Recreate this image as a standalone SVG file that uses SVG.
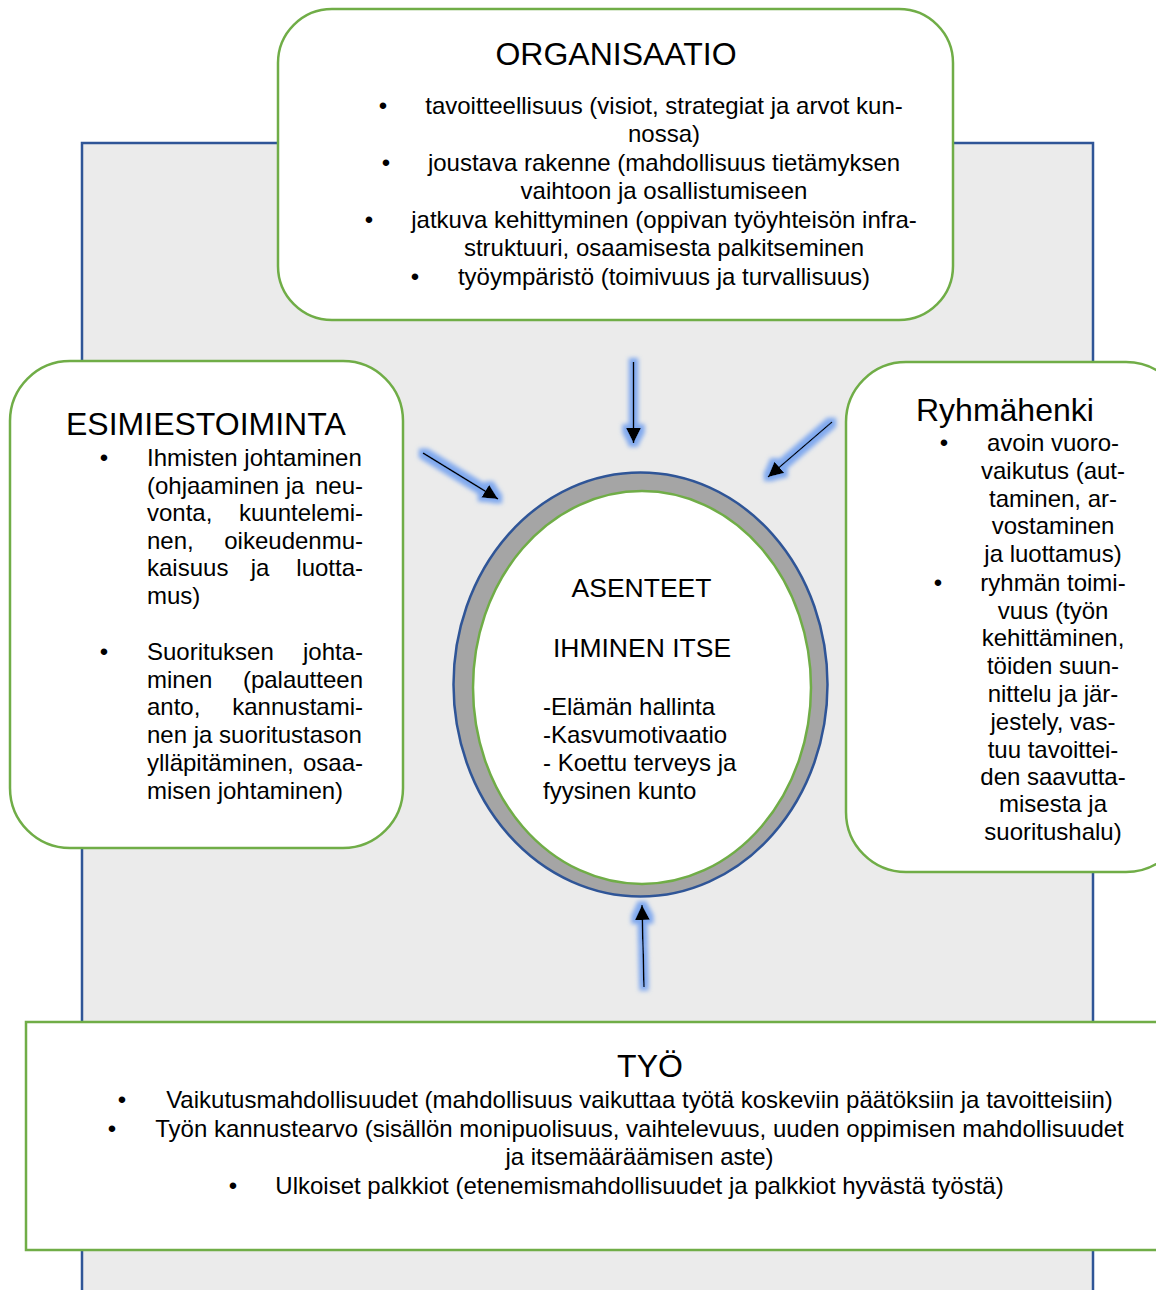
<svg xmlns="http://www.w3.org/2000/svg" width="1156" height="1290" viewBox="0 0 1156 1290">
<style>
  text { font-family: "Liberation Sans", Arial, sans-serif; fill: #000; }
  .h { font-size: 32px; }
  .b { font-size: 24px; }
  .m { font-size: 26.5px; }
  .c { text-anchor: middle; }
  .e { text-anchor: end; }
  .box { fill: #fff; stroke: #70AD47; stroke-width: 2.5; }
  .conn { stroke: #000; stroke-width: 1.6; fill: none; marker-end: url(#ah); }
</style>
<defs>
  <marker id="ah" markerUnits="userSpaceOnUse" markerWidth="16" markerHeight="16" viewBox="0 0 16 16" refX="15" refY="8" orient="auto">
    <path d="M0,0.5 L15,8 L0,15.5 z" fill="#000"/>
  </marker>
  <filter id="glow" x="-50%" y="-50%" width="200%" height="200%">
    <feMorphology in="SourceAlpha" operator="dilate" radius="3.5" result="d"/>
    <feFlood flood-color="#6F9EEF" flood-opacity="0.85"/>
    <feComposite in2="d" operator="in" result="c"/>
    <feGaussianBlur in="c" stdDeviation="2.2" result="g"/>
    <feMerge><feMergeNode in="g"/><feMergeNode in="SourceGraphic"/></feMerge>
  </filter>
</defs>

<rect width="1156" height="1290" fill="#fff"/>

<g id="background">
  <rect x="82" y="143" width="1011" height="1170" fill="#EBEBEB" stroke="#2F5597" stroke-width="2.5"/>
</g>

<g id="organisaatio">
  <rect class="box" x="278" y="9" width="675" height="311" rx="54" ry="54"/>
  <text class="h c" x="616" y="65">ORGANISAATIO</text>
  <text class="b c" x="383" y="114">•</text>
  <text class="b c" x="664" y="114">tavoitteellisuus (visiot, strategiat ja arvot kun-</text>
  <text class="b c" x="664" y="142">nossa)</text>
  <text class="b c" x="386" y="171">•</text>
  <text class="b c" x="664" y="171">joustava rakenne (mahdollisuus tietämyksen</text>
  <text class="b c" x="664" y="199">vaihtoon ja osallistumiseen</text>
  <text class="b c" x="369" y="228">•</text>
  <text class="b c" x="664" y="228">jatkuva kehittyminen (oppivan työyhteisön infra-</text>
  <text class="b c" x="664" y="256">struktuuri, osaamisesta palkitseminen</text>
  <text class="b c" x="415" y="285">•</text>
  <text class="b c" x="664" y="285">työympäristö (toimivuus ja turvallisuus)</text>
</g>

<g id="esimiestoiminta">
  <rect class="box" x="10" y="361" width="393" height="487" rx="60" ry="60"/>
  <text class="h" x="66" y="435">ESIMIESTOIMINTA</text>
  <text class="b c" x="104" y="466">•</text>
  <text class="b" x="147" y="466">Ihmisten johtaminen</text>
  <text class="b" x="147" y="494">(ohjaaminen</text><text class="b c" x="295" y="494">ja</text><text class="b e" x="363" y="494">neu-</text>
  <text class="b" x="147" y="521">vonta,</text><text class="b e" x="363" y="521">kuuntelemi-</text>
  <text class="b" x="147" y="549">nen,</text><text class="b e" x="363" y="549">oikeudenmu-</text>
  <text class="b" x="147" y="576">kaisuus</text><text class="b c" x="260" y="576">ja</text><text class="b e" x="363" y="576">luotta-</text>
  <text class="b" x="147" y="604">mus)</text>
  <text class="b c" x="104" y="660">•</text>
  <text class="b" x="147" y="660">Suorituksen</text><text class="b e" x="363" y="660">johta-</text>
  <text class="b" x="147" y="688">minen</text><text class="b e" x="363" y="688">(palautteen</text>
  <text class="b" x="147" y="715">anto,</text><text class="b e" x="363" y="715">kannustami-</text>
  <text class="b" x="147" y="743">nen ja suoritustason</text>
  <text class="b" x="147" y="771">ylläpitäminen,</text><text class="b e" x="363" y="771">osaa-</text>
  <text class="b" x="147" y="799">misen johtaminen)</text>
</g>

<g id="ryhmahenki">
  <rect class="box" x="846" y="362" width="340" height="510" rx="60" ry="60"/>
  <text class="h" x="916" y="421">Ryhmähenki</text>
  <text class="b c" x="944" y="451">•</text>
  <text class="b c" x="1053" y="451">avoin vuoro-</text>
  <text class="b c" x="1053" y="479">vaikutus (aut-</text>
  <text class="b c" x="1053" y="507">taminen, ar-</text>
  <text class="b c" x="1053" y="534">vostaminen</text>
  <text class="b c" x="1053" y="562">ja luottamus)</text>
  <text class="b c" x="938" y="591">•</text>
  <text class="b c" x="1053" y="591">ryhmän toimi-</text>
  <text class="b c" x="1053" y="619">vuus (työn</text>
  <text class="b c" x="1053" y="646">kehittäminen,</text>
  <text class="b c" x="1053" y="674">töiden suun-</text>
  <text class="b c" x="1053" y="702">nittelu ja jär-</text>
  <text class="b c" x="1053" y="730">jestely, vas-</text>
  <text class="b c" x="1053" y="758">tuu tavoittei-</text>
  <text class="b c" x="1053" y="785">den saavutta-</text>
  <text class="b c" x="1053" y="812">misesta ja</text>
  <text class="b c" x="1053" y="840">suoritushalu)</text>
</g>

<g id="ihminen-itse">
  <ellipse cx="640.5" cy="684.5" rx="187" ry="212" fill="#A5A5A5" stroke="#2F5597" stroke-width="2.5"/>
  <ellipse cx="642" cy="687.5" rx="169" ry="196.5" fill="#fff" stroke="#70AD47" stroke-width="2.5"/>
  <text class="m c" x="641.5" y="597">ASENTEET</text>
  <text class="m c" x="642" y="657">IHMINEN ITSE</text>
  <text class="b" x="543" y="715">-Elämän hallinta</text>
  <text class="b" x="543" y="743">-Kasvumotivaatio</text>
  <text class="b" x="543" y="771">- Koettu terveys ja</text>
  <text class="b" x="543" y="799">fyysinen kunto</text>
</g>

<g id="tyo">
  <rect class="box" x="26" y="1022" width="1150" height="228"/>
  <text class="h c" x="650" y="1077">TYÖ</text>
  <text class="b c" x="122" y="1108">•</text>
  <text class="b c" x="639.5" y="1108">Vaikutusmahdollisuudet (mahdollisuus vaikuttaa työtä koskeviin päätöksiin ja tavoitteisiin)</text>
  <text class="b c" x="112" y="1137">•</text>
  <text class="b c" x="639.5" y="1137">Työn kannustearvo (sisällön monipuolisuus, vaihtelevuus, uuden oppimisen mahdollisuudet</text>
  <text class="b c" x="639.5" y="1165">ja itsemääräämisen aste)</text>
  <text class="b c" x="233" y="1194">•</text>
  <text class="b c" x="639.5" y="1194">Ulkoiset palkkiot (etenemismahdollisuudet ja palkkiot hyvästä työstä)</text>
</g>

<g id="connectors" filter="url(#glow)">
  <line class="conn" x1="633.5" y1="362" x2="633.5" y2="443"/>
  <line class="conn" x1="423" y1="453" x2="498" y2="499"/>
  <line class="conn" x1="832" y1="422" x2="768" y2="477"/>
  <line class="conn" x1="644" y1="987" x2="642" y2="905"/>
</g>
</svg>
